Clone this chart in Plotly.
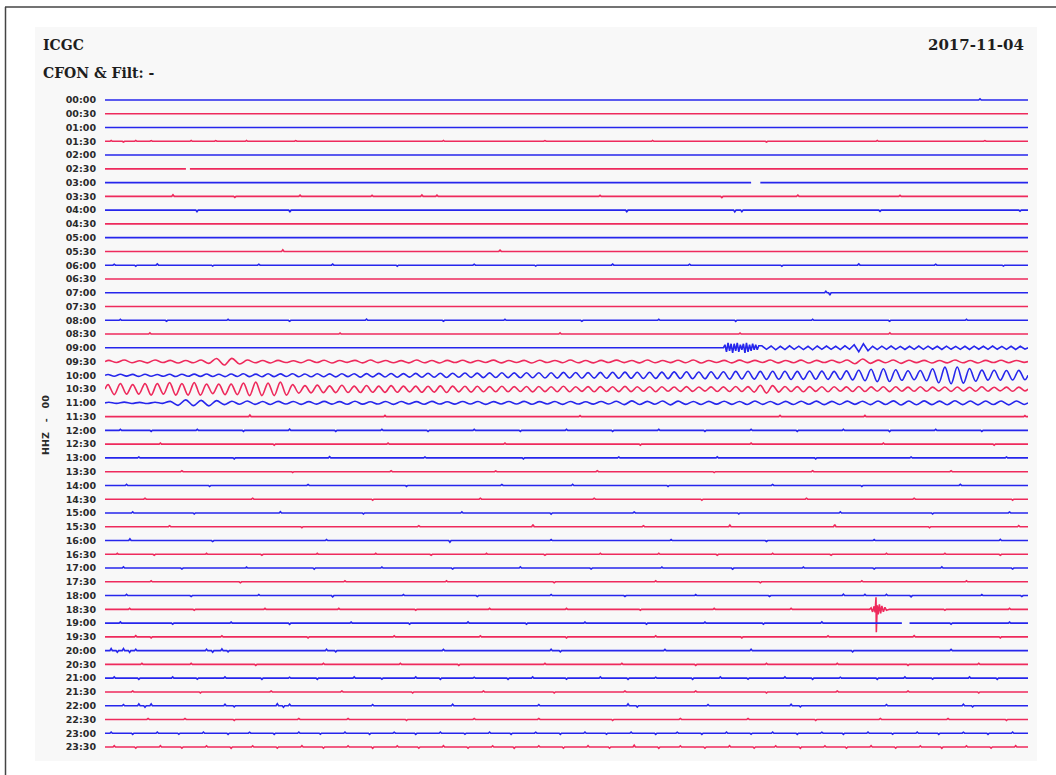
import plotly.graph_objects as go

# ---------------- data ----------------
row_labels = ["00:00", "00:30", "01:00", "01:30", "02:00", "02:30", "03:00", "03:30",
              "04:00", "04:30", "05:00", "05:30", "06:00", "06:30", "07:00", "07:30",
              "08:00", "08:30", "09:00", "09:30", "10:00", "10:30", "11:00", "11:30",
              "12:00", "12:30", "13:00", "13:30", "14:00", "14:30", "15:00", "15:30",
              "16:00", "16:30", "17:00", "17:30", "18:00", "18:30", "19:00", "19:30",
              "20:00", "20:30", "21:00", "21:30", "22:00", "22:30", "23:00", "23:30"]

title_left = "ICGC"
subtitle_left = "CFON & Filt: -"
date_text = "2017-11-04"
channel_text = "HHZ\u00a0\u00a0\u00a0-\u00a0\u00a0\u00a000"

WINDOW_MIN = 30.0  # each line spans 30 minutes

# 09:00 – regional event (starts ~20.15 min)
w0900_start = 20.15
w0900_burst = [3, -4, 5, -3, 4, -5, 4, -3, 5, -4, 3, -2, 4, -5, 5, -4, 3, -3, 4, -2, 3, -2, 2]
w0900_tail = [2, -1.5, 1.8, -2, 1.5, -1.8, 2, -1.5, 1.6, -1.8, 1.5, -2, 1.8, -1.5, 1.7, -1.6,
              1.5, -1.8, 2, -1.5, 3, -4, 4, -3, 1.5, -1.8, 1.6, -1.5, 1.8, -1.6, 1.4, -1.7,
              1.5, -1.6, 1.8, -1.5, 1.6, -1.4, 1.5, -1.7, 1.6, -1.5, 1.4, -1.6, 1.5, -1.7,
              1.6, -1.4, 1.5, -1.6, 1.7, -1.5, 1.4, -1.6, 1.5, -1.7, 1.5, -1.4]

# 09:30 – samples every 0.25 min
w0930 = [1.2, -1, 1.5, -1.2, 0.8, -1.3, 1.6, -1, 1.2, -1.5, 1, -1.2,
         1.5, -1.8, 3, -3.5, 3.2, -2.5, 1.5, -1.2, 1, -1.4, 1.2, -1,
         0.8, -1.2, 1.5, -1, 1.3, -1.5, 1, -0.8, 1.2, -1.3, 1.5, -1.1,
         1, -1.2, 0.9, -1.3, 1.5, -1.2, 1, -1.4, 1.2, -1, 1.3, -1.2,
         1.1, -1, 1.4, -1.3, 1, -0.9, 1.2, -1.5, 1.3, -1, 1.1, -1.2,
         1.5, -1.2, 1, -1.3, 1.2, -1, 1.4, -1.1, 1, -1.3, 1.5, -1.2,
         1, -1.1, 1.3, -1.2, 1.5, -1.4, 1.1, -1, 1.2, -1.3, 1.4, -1.1,
         1.2, -1, 1.5, -1.3, 1.1, -1.2, 1.4, -1.5, 1.2, -1, 1.3, -1.1,
         1.5, -2.2, 2.5, -1.8, 1.4, -1.2, 1.6, -1.8, 1.3, -1.1, 1.2, -1.4,
         1.1, -1.3, 1.5, -1.2, 1, -1.4, 1.2, -1, 1.3, -1.2, 1.1, -0.8]

# 10:00 – surface waves, samples every 0.2 min
w1000 = [0.8, -1, 1, -0.8, 0.9, -1.1, 1, -0.9, 0.8, -1,
         1, -1.2, 1.1, -1, 1.2, -1.1, 1.3, -1.2, 1.1, -1.3,
         1.3, -1.2, 1.5, -1.3, 1.2, -1.4, 1.5, -1.3, 1.4, -1.2,
         1.5, -1.4, 1.3, -1.5, 1.6, -1.4, 1.4, -1.6, 1.5, -1.3,
         1.6, -1.8, 1.7, -1.6, 1.9, -1.7, 1.8, -1.9, 1.7, -1.8,
         1.9, -2.0, 2.1, -1.9, 2.0, -2.2, 2.1, -2.0, 2.3, -2.1,
         2.2, -2.3, 2.4, -2.2, 2.5, -2.3, 2.4, -2.5, 2.6, -2.4,
         2.6, -2.7, 2.5, -2.8, 2.9, -2.7, 2.8, -2.9, 2.7, -2.8,
         2.9, -3.0, 3.1, -2.9, 3.2, -3.0, 3.1, -3.2, 3.0, -3.1,
         3.2, -3.3, 3.4, -3.2, 3.5, -3.4, 3.3, -3.5, 3.6, -3.4,
         3.6, -3.8, 3.9, -3.7, 4.0, -3.8, 3.9, -4.1, 4.0, -3.9,
         4.0, -4.2, 3.9, -4.1, 4.3, -4.0, 4.2, -4.1, 3.9, -4.2,
         4.4, -4.6, 5.0, -5.4, 6.0, -6.3, 6.5, -6.2, 5.6, -5.0,
         4.6, -4.5, 4.8, -5.5, 6.5, -7.5, 8.2, -8.5, 8.3, -7.8,
         6.8, -6.0, 5.2, -4.8, 5.0, -4.9, 4.8, -4.7, 4.9, -4.5]

# 10:30 – samples every 0.2 min
w1030 = [4.5, -5.5, 5.5, -5, 4.5, -5, 5.5, -6, 5.5, -5,
         6.5, -6, 5.5, -6, 6.5, -6, 5, -4.5, 5, -5.5,
         5, -5.5, 6, -6.5, 7, -6.5, 6, -6.5, 7, -6,
         4.5, -4, 3.5, -3.8, 4, -3.5, 3.2, -3.5, 3.8, -3.4,
         3, -3.4, 3.6, -3.2, 3, -3.3, 3.5, -3.2, 3, -2.8,
         3, -3.2, 2.8, -3, 3.2, -3.4, 3, -2.8, 2.8, -3,
         2.8, -2.6, 2.5, -2.7, 2.9, -2.7, 2.5, -2.4, 2.6, -2.8,
         2.6, -2.5, 2.4, -2.6, 2.8, -2.6, 2.4, -2.3, 2.5, -2.7,
         2.5, -2.4, 2.3, -2.5, 2.7, -2.5, 2.3, -2.2, 2.4, -2.6,
         2.3, -2.2, 2.1, -2.3, 2.5, -2.3, 2.1, -2, 2.2, -2.4,
         2.2, -2.4, 2.6, -2.4, 2.5, -3, 3.8, -4, 3.5, -3,
         2.6, -2.4, 2.5, -2.7, 2.5, -2.3, 2.4, -2.6, 2.4, -2.2,
         2.2, -2.4, 2.6, -2.4, 2.2, -2.1, 2.3, -2.5, 2.3, -2.1,
         2, -2.2, 2.4, -2.2, 2, -1.9, 2.1, -2.3, 2.1, -1.9,
         1.9, -2.1, 2.3, -2.1, 1.9, -1.8, 2, -2.2, 2, -1.8]

# 11:00 – samples every 0.25 min
w1100 = [0.6, -0.5, 0.7, -0.6, 0.5, -0.7, 0.6, -0.5,
         1.5, -2.5, 3, -2.8, 2.5, -3, 2.2, -1.8,
         1.6, -1.4, 1.8, -1.5, 1.3, -1.6, 1.5, -1.2, 1.4, -1.5, 1.2, -1.3,
         1.5, -1.3, 1.2, -1.4, 1.6, -1.3, 1.1, -1.2, 1.4, -1.5, 1.3, -1.1,
         1.2, -1.4, 1.5, -1.2, 1.1, -1.3, 1.4, -1.2, 1.3, -1.5, 1.2, -1.1,
         1.3, -1.2, 1.5, -1.4, 1.2, -1.1, 1.3, -1.5, 1.4, -1.2, 1.1, -1.3,
         1.4, -1.2, 1.6, -1.8, 2.0, -1.7, 1.5, -1.4, 1.8, -2.0, 1.7, -1.5,
         1.4, -1.6, 1.5, -1.3, 1.6, -1.5, 1.4, -1.6, 1.8, -1.5, 1.4, -1.6,
         1.5, -1.7, 1.6, -1.4, 1.7, -1.8, 1.5, -1.6, 1.7, -1.5, 1.6, -1.8,
         1.9, -1.7, 2.0, -2.1, 1.8, -1.9, 2.0, -1.8, 1.7, -1.9, 2.1, -1.8,
         1.9, -2.0, 1.8, -1.7, 1.9, -2.0, 1.8, -1.6]

# 18:30 – local event
ev1830_t = [24.85, 24.90, 24.95, 25.00, 25.03, 25.06, 25.07, 25.10, 25.13, 25.17,
            25.21, 25.25, 25.30, 25.35, 25.40, 25.50]
ev1830_v = [0, 1.5, -2.5, 3, -3, 12, -23, 4, -5, 5, -4, 3.5, -2.5, 2, -1, 0]

# isolated spikes (minute, amplitude) per line
ticks_0000 = [(28.44, 1.2)]
ticks_0130 = [(0.2, 0.8), (0.6, -0.7), (1.0, 0.8), (1.5, 0.7), (2.1, -0.7), (2.8, 0.8),
              (3.6, 0.7), (4.6, 0.8), (6.2, 0.7), (8.4, -0.7), (11.0, 0.8), (14.3, 0.7),
              (17.8, 0.8), (21.5, -0.7), (25.1, 0.8), (28.6, 0.7)]
ticks_0330 = [(2.21, 1.5), (4.22, -1.0), (6.34, 1.2), (8.68, 1.0), (10.30, 1.4), (10.79, 1.2),
              (16.09, 1.0), (20.05, -1.2), (22.52, 1.3), (25.84, 1.0)]
ticks_0400 = [(2.99, -1.6), (6.01, -1.5), (16.96, -1.5), (20.47, -1.8), (20.70, -1.6),
              (25.19, -1.2), (29.74, -1.0)]
ticks_0530 = [(5.78, 1.6), (12.84, 1.2)]
ticks_0600 = [(0.3, 1.0), (1.0, -1.0), (1.7, 1.2), (3.5, -0.9), (5.0, 1.0), (7.4, 1.1),
              (9.5, -1.0), (12.0, 1.0), (14.0, -0.9), (16.5, 1.1), (19.0, 1.0), (22.0, -1.0),
              (24.5, 1.2), (27.0, 1.0), (29.2, -0.9)]
ticks_0700 = [(23.43, 1.5), (23.56, -2.5)]
ticks_0800 = [(0.5, 1.0), (2.0, -0.9), (4.0, 1.0), (6.0, -1.0), (8.5, 1.1), (11.0, -0.9),
              (13.0, 1.0), (15.5, -1.0), (18.0, 1.0), (20.5, -1.1), (23.0, 1.0), (25.5, -0.9),
              (28.0, 1.0)]
ticks_0830 = [(1.46, 1.2), (7.64, 1.0), (14.79, 1.1), (20.64, 1.0), (25.51, 1.2)]
ticks_1130 = [(4.71, 1.5), (9.10, 1.2), (15.44, 1.0), (21.94, 1.3), (24.70, 1.2), (29.90, 1.0)]
ticks_1200 = [(0.5, 1), (1.5, -1), (3, 1), (4.5, -1), (6, 1.2), (7.5, -1), (9, 1), (10.5, -1.1),
              (12, 1), (13.5, -1), (15, 1), (16.5, -1), (18, 1.1), (19.5, -1), (21, 1),
              (22.5, -1), (24, 1), (25.5, -1.2), (27, 1), (28.5, -1)]
ticks_1230 = [(1.8, 1), (5.5, -1), (9.2, 1), (13.0, 1), (17.4, -1), (21.0, 1), (25.3, 1), (28.9, -1)]
ticks_1300 = [(1.1, 1), (4.2, -1), (7.3, 1.2), (10.4, 1), (13.6, -1), (16.7, 1), (19.9, 1.1),
              (23.1, -1), (26.2, 1), (29.3, 1)]
ticks_1330 = [(2.5, 1), (6.1, -0.8), (9.3, 1), (12.7, 0.8), (16.0, 1), (19.8, -0.9), (23.0, 1), (27.5, 1)]
ticks_1400 = [(0.7, 1.2), (3.4, -1), (6.6, 1), (9.8, -1.1), (12.9, 1), (15.2, 1.2), (18.3, -1),
              (21.7, 1), (24.6, -1), (27.8, 1.1)]
ticks_1430 = [(1.3, 1), (4.8, 1), (8.7, -1), (12.2, 1), (15.9, 1), (19.4, -1), (22.8, 1), (26.3, 1), (29.5, -1)]
ticks_1500 = [(0.9, 1.2), (2.9, -1), (5.7, 1.3), (8.4, -1), (11.6, 1.1), (14.5, -1.2), (17.2, 1),
              (20.6, -1), (23.9, 1.2), (26.9, -1), (29.4, 1)]
ticks_1530 = [(2.1, 1), (6.4, -1), (10.2, 1), (13.91, 2.2), (17.5, 1), (20.31, 1.6), (23.72, 2.2),
              (26.8, -1), (29.7, 1.2)]
ticks_1600 = [(0.81, 1.6), (3.5, -1), (7.2, 1), (11.21, -1.6), (14.5, 1), (18.4, 1), (21.5, -1),
              (25.0, 1), (29.1, 1.2)]
ticks_1630 = [(0.4, 1), (1.6, -1), (3.3, 1), (5.1, -1), (6.9, 1), (8.8, 1), (10.6, -1), (12.4, 1),
              (14.3, -1), (16.1, 1), (18.0, 1), (19.9, -1), (21.7, 1), (23.6, -1), (25.4, 1),
              (27.3, 1), (29.1, -1)]
ticks_1700 = [(0.6, 1.2), (2.5, -1), (4.6, 1), (6.8, -1.2), (9.0, 1), (11.3, -1), (13.5, 1.2),
              (15.8, -1), (18.1, 1), (20.4, -1.1), (22.7, 1), (25.0, -1), (27.2, 1.2), (29.5, -1)]
ticks_1730 = [(1.5, 1), (4.4, -1), (7.8, 1), (11.1, 1), (14.6, -1), (17.9, 1), (21.3, -1), (24.6, 1), (28.0, 1)]
ticks_1800 = [(0.7, 1.2), (2.8, -1), (5.0, 1), (7.4, -1.2), (9.7, 1), (12.1, -1), (14.5, 1.1),
              (16.9, -1), (19.2, 1), (21.6, -1), (24.0, 1.3), (24.7, 1.2), (25.4, 1.2), (26.2, -1.2),
              (28.5, 1), (29.8, -1)]
ticks_1830 = [(0.8, 1), (2.9, -1), (5.2, 1), (7.6, 1), (10.1, -1), (12.5, 1), (15.0, 1), (17.4, -1),
              (19.8, 1), (22.3, 1), (27.3, -1), (29.4, 1)]
ticks_1900 = [(0.5, 1.2), (2.2, -1), (4.1, 1), (6.0, -1.2), (8.0, 1), (9.9, -1), (11.8, 1.2),
              (13.7, -1), (15.6, 1), (17.6, -1.1), (19.5, 1), (21.4, -1), (23.3, 1.2), (27.5, -1), (29.4, 1)]
ticks_1930 = [(1.0, 1.2), (1.5, -1), (3.8, 1), (6.6, -1), (9.4, 1), (12.2, 1), (15.0, -1), (17.9, 1),
              (20.7, -1), (23.5, 1), (26.3, 1.2), (29.1, -1)]
ticks_2000 = [(0.2, 2), (0.4, -1.5), (0.6, 2), (0.8, -1.8), (1.0, 1.5), (3.3, 1.5), (3.5, -1.5),
              (3.8, 1.8), (4.0, -1.2), (7.2, 1.5), (7.5, -1.2), (11.0, 1.2), (14.5, 1.5),
              (14.8, -1.2), (18.2, 1.2), (21.0, 1.5), (24.3, -1.2), (27.5, 1.3)]
ticks_2030 = [(1.2, 1), (2.8, 1), (4.9, -1), (7.1, 1), (9.6, 1), (11.5, -1), (14.3, 1), (16.8, 1),
              (19.2, -1), (21.5, 1), (23.8, 1), (26.1, -1), (28.4, 1)]
ticks_2100 = [(0.3, 1.2), (1.1, -1.2), (2.2, 1.2), (3.0, -1), (3.9, 1.2), (5.1, -1.2), (6.0, 1),
              (6.9, -1.2), (8.1, 1.2), (9.0, -1), (10.1, 1.2), (10.9, -1.2), (12.0, 1), (13.1, -1.2),
              (13.9, 1.2), (15.0, -1), (16.1, 1.2), (17.0, -1.2), (17.9, 1), (19.1, -1.2),
              (20.0, 1.2), (20.9, -1), (22.1, 1.2), (23.0, -1.2), (23.9, 1), (25.1, -1.2),
              (26.0, 1.2), (26.9, -1), (28.1, 1.2), (29.0, -1.2)]
ticks_2130 = [(0.9, 1), (3.1, -1), (5.4, 1), (7.7, 1), (10.0, -1), (12.3, 1), (14.6, -1), (16.9, 1),
              (19.2, 1), (21.5, -1), (23.8, 1), (26.1, 1), (28.4, -1)]
ticks_2200 = [(0.6, 1.2), (1.1, 1.8), (1.3, -1.5), (1.5, 1.8), (3.9, 1.5), (4.2, -1.2), (5.6, 2),
              (5.8, -1.5), (6.0, 1.5), (8.7, 1.2), (11.3, 1.5), (14.1, 1.2), (17.0, 1.8),
              (17.3, -1.3), (19.6, 1.2), (22.3, 1.5), (22.6, -1.2), (25.4, 1.2), (27.9, 1.5), (28.2, -1.2)]
ticks_2230 = [(1.4, 1), (2.6, 1), (4.2, -1), (6.3, 1), (7.9, 1), (9.8, -1), (12.0, 1), (14.1, 1),
              (16.5, -1), (18.7, 1), (20.9, 1), (23.1, -1), (25.2, 1), (27.4, 1), (29.3, -1)]
ticks_2300 = [(0.2, 1.2), (0.9, -1.2), (1.7, 1.2), (2.4, -1), (3.2, 1.2), (4.0, -1.2), (4.7, 1),
              (5.5, -1.2), (6.3, 1.2), (7.0, -1), (7.8, 1.2), (8.6, -1.2), (9.4, 1), (10.1, -1.2),
              (10.9, 1.2), (11.7, -1), (12.5, 1.2), (13.2, -1.2), (14.0, 1), (14.8, -1.2),
              (15.6, 1.2), (16.3, -1), (17.1, 1.2), (17.9, -1.2), (18.6, 1), (19.4, -1.2),
              (20.2, 1.2), (21.0, -1), (21.7, 1.2), (22.5, -1.2), (23.3, 1), (24.0, -1.2),
              (24.8, 1.2), (25.6, -1), (26.4, 1.2), (27.1, -1.2), (27.9, 1), (28.7, -1.2), (29.5, 1.2)]
ticks_2330 = [(0.3, 1.3), (1.0, -1.2), (1.8, 1.3), (2.5, -1.2), (3.3, 1.2), (4.1, -1.3), (4.8, 1.2),
              (5.6, -1.2), (6.4, 1.3), (7.1, -1.2), (7.9, 1.2), (8.7, -1.3), (9.5, 1.2), (10.2, -1.2),
              (11.0, 1.3), (11.8, -1.2), (12.6, 1.2), (13.3, -1.3), (14.1, 1.2), (14.9, -1.2),
              (15.7, 1.3), (16.4, -1.2), (17.2, 1.8), (18.0, -1.3), (18.7, 1.2), (19.5, -1.2),
              (20.3, 1.3), (21.1, -1.2), (21.8, 1.2), (22.6, -1.3), (23.4, 1.2), (24.1, -1.2),
              (24.9, 1.3), (25.7, -1.2), (26.5, 1.2), (27.2, -1.3), (28.0, 1.2), (28.8, -1.2), (29.6, 1.3)]

# short data gaps (start, end) in minutes
gaps_0230 = [(2.63, 2.76)]
gaps_0300 = [(21.0, 21.3)]
gaps_1900 = [(25.9, 26.15)]

# ---------------- assembly ----------------
tick_rows = {"00:00": ticks_0000, "01:30": ticks_0130, "03:30": ticks_0330, "04:00": ticks_0400,
             "05:30": ticks_0530, "06:00": ticks_0600, "07:00": ticks_0700, "08:00": ticks_0800,
             "08:30": ticks_0830, "11:30": ticks_1130, "12:00": ticks_1200, "12:30": ticks_1230,
             "13:00": ticks_1300, "13:30": ticks_1330, "14:00": ticks_1400, "14:30": ticks_1430,
             "15:00": ticks_1500, "15:30": ticks_1530, "16:00": ticks_1600, "16:30": ticks_1630,
             "17:00": ticks_1700, "17:30": ticks_1730, "18:00": ticks_1800, "18:30": ticks_1830,
             "19:00": ticks_1900, "19:30": ticks_1930, "20:00": ticks_2000, "20:30": ticks_2030,
             "21:00": ticks_2100, "21:30": ticks_2130, "22:00": ticks_2200, "22:30": ticks_2230,
             "23:00": ticks_2300, "23:30": ticks_2330}
gap_rows = {"02:30": gaps_0230, "03:00": gaps_0300, "19:00": gaps_1900}

PX_PER_ROW = 13.766  # amplitude units are roughly screen pixels
BLUE = "#2626ec"
RED = "#ee2a5c"


def sampled(start, step, values):
    return [(start + k * step, v) for k, v in enumerate(values)]


def wave_points(label):
    if label == "09:00":
        pts = [(0.0, 0.0), (w0900_start - 0.05, 0.0)]
        pts += sampled(w0900_start, 0.05, w0900_burst)
        pts += sampled(w0900_start + 0.05 * len(w0900_burst) + 0.05, 0.15, w0900_tail)
        pts.append((WINDOW_MIN, 0.0))
        return pts, "linear"
    if label == "09:30":
        return [(0.0, 0.0)] + sampled(0.125, 0.25, w0930) + [(WINDOW_MIN, 0.0)], "spline"
    if label == "10:00":
        return [(0.0, 0.0)] + sampled(0.1, 0.2, w1000) + [(WINDOW_MIN, 0.0)], "spline"
    if label == "10:30":
        return [(0.0, 0.0)] + sampled(0.1, 0.2, w1030) + [(WINDOW_MIN, 0.0)], "spline"
    if label == "11:00":
        return [(0.0, 0.0)] + sampled(0.125, 0.25, w1100) + [(WINDOW_MIN, 0.0)], "spline"
    return None, None


fig = go.Figure()
for i, label in enumerate(row_labels):
    color = BLUE if i % 2 == 0 else RED
    pts, shape = wave_points(label)
    if pts is None:
        shape = "linear"
        pts = [(0.0, 0.0), (WINDOW_MIN, 0.0)]
        for m, a in tick_rows.get(label, []):
            pts += [(m - 0.04, 0.0), (m, a), (m + 0.04, 0.0)]
        if label == "18:30":
            pts += list(zip(ev1830_t, ev1830_v))
        pts.sort(key=lambda p: p[0])
    xs, ys = [], []
    gaps = gap_rows.get(label, [])
    for m, a in pts:
        if any(g0 <= m <= g1 for g0, g1 in gaps):
            continue
        xs.append(m)
        ys.append(-i + a / PX_PER_ROW)
    for g0, g1 in gaps:
        k = next(j for j, xv in enumerate(xs) if xv > g1)
        xs[k:k] = [g0, None, g1]
        ys[k:k] = [-i, None, -i]
    fig.add_trace(go.Scatter(x=xs, y=ys, mode="lines", hoverinfo="skip",
                             line=dict(color=color, width=1.6, shape=shape),
                             connectgaps=False, showlegend=False))

# ---------------- layout ----------------
W, H = 1056, 775
L, R, T, B = 105, 28, 60, 15
pw, ph = W - L - R, H - T - B


def px(xp):
    return (xp - L) / pw


def py(yp):
    return (H - B - yp) / ph


top_units = (100 - T) / PX_PER_ROW
bottom_units = 47 + (H - B - 747) / PX_PER_ROW

title_font = dict(family="DejaVu Serif", size=14, color="#1e1e1e", weight="bold")

fig.update_layout(
    width=W, height=H,
    margin=dict(l=L, r=R, t=T, b=B),
    paper_bgcolor="white",
    plot_bgcolor="rgba(0,0,0,0)",
    xaxis=dict(visible=False, range=[0, WINDOW_MIN], fixedrange=True),
    yaxis=dict(range=[-bottom_units, top_units], showgrid=False, zeroline=False,
               showline=False, ticks="", tickmode="array",
               tickvals=[-i for i in range(len(row_labels))], ticktext=row_labels,
               tickfont=dict(family="DejaVu Sans", size=9.5, color="#2a2a2a", weight="bold"),
               ticklabelstandoff=8, fixedrange=True),
    shapes=[
        dict(type="rect", xref="paper", yref="paper", x0=px(35), x1=px(1037), y0=py(761), y1=py(27),
             fillcolor="#f8f8f8", line=dict(width=0), layer="below"),
        dict(type="line", xref="paper", yref="paper", x0=px(5), x1=px(1056), y0=py(7), y1=py(7),
             line=dict(color="#444444", width=1.5)),
        dict(type="line", xref="paper", yref="paper", x0=px(5.5), x1=px(5.5), y0=py(7), y1=py(775),
             line=dict(color="#444444", width=1.5)),
    ],
    annotations=[
        dict(text=title_left, xref="paper", yref="paper", x=px(41), y=py(45), xanchor="left",
             yanchor="middle", showarrow=False, font=title_font),
        dict(text=subtitle_left, xref="paper", yref="paper", x=px(41), y=py(73), xanchor="left",
             yanchor="middle", showarrow=False, font=title_font),
        dict(text=date_text, xref="paper", yref="paper", x=px(1026), y=py(45), xanchor="right",
             yanchor="middle", showarrow=False,
             font=dict(family="DejaVu Serif", size=15, color="#1e1e1e", weight="bold")),
        dict(text=channel_text, xref="paper", yref="paper", x=px(46), y=py(425), xanchor="center",
             yanchor="middle", showarrow=False, textangle=-90,
             font=dict(family="DejaVu Sans", size=9.5, color="#2a2a2a", weight="bold")),
    ],
)

fig.write_html("out.html", config={"displayModeBar": False},
               post_script="document.body.style.margin='0px';")
